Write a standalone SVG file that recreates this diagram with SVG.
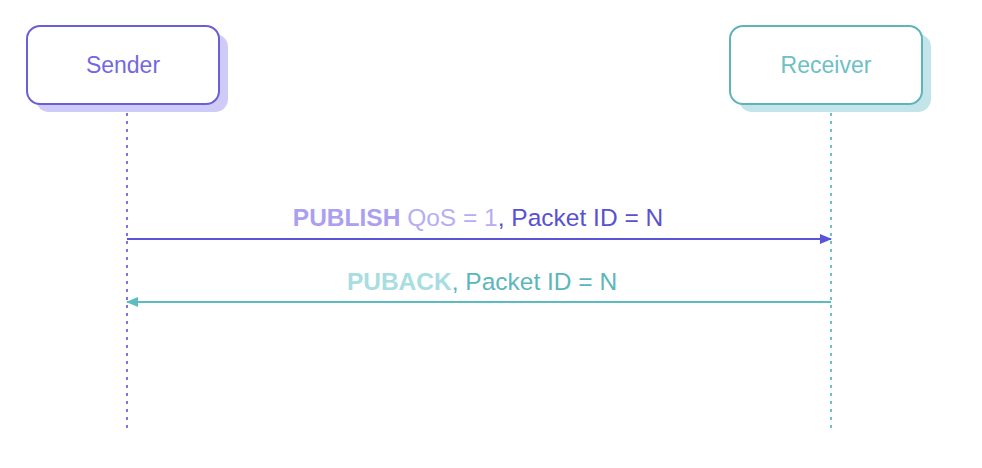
<svg xmlns="http://www.w3.org/2000/svg" width="982" height="468" viewBox="0 0 982 468">
<style>
  text { font-family: "Liberation Sans", Arial, sans-serif; }
  .life { fill: none; stroke-width: 2; stroke-dasharray: 3 5; }
  .lbl { font-size: 23px; text-anchor: middle; }
  .msg { font-size: 24.5px; text-anchor: middle; }
</style>
<defs>
  <marker id="ahP" markerWidth="12" markerHeight="10" refX="11" refY="5" orient="auto" markerUnits="userSpaceOnUse">
    <path d="M0,0 L12,5 L0,10 Z" fill="#5a54d8"/>
  </marker>
  <marker id="ahT" markerWidth="12" markerHeight="10" refX="11" refY="5" orient="auto" markerUnits="userSpaceOnUse">
    <path d="M0,0 L12,5 L0,10 Z" fill="#5dbcc2"/>
  </marker>
</defs>
<rect width="982" height="468" fill="#ffffff"/>
<g id="connectors">
  <line class="life" x1="127" y1="105" x2="127" y2="430" stroke="#7f74e2"/>
  <line class="life" x1="831" y1="105" x2="831" y2="430" stroke="#6cc3c9"/>
  <line x1="127" y1="239" x2="831" y2="239" stroke="#5a54d8" stroke-width="1.8" marker-end="url(#ahP)"/>
  <line x1="831" y1="302" x2="127" y2="302" stroke="#5dbcc2" stroke-width="1.8" marker-end="url(#ahT)"/>
  <text class="msg" x="478" y="226"><tspan font-weight="bold" fill="#ab9ff2">PUBLISH</tspan><tspan fill="#b6aef2"> QoS = 1</tspan><tspan fill="#5a50d2">, Packet ID = N</tspan></text>
  <text class="msg" x="482" y="290"><tspan font-weight="bold" fill="#a8dde1">PUBACK</tspan><tspan fill="#5cb6bc">, Packet ID = N</tspan></text>
</g>
<g id="sender">
  <rect x="36" y="34" width="192" height="78" rx="13" fill="#cfcbf8"/>
  <rect x="27" y="26" width="192" height="78" rx="13" fill="#ffffff" stroke="#6a5fd6" stroke-width="2"/>
  <text class="lbl" x="123" y="73" fill="#7468e0">Sender</text>
</g>
<g id="receiver">
  <rect x="739" y="34" width="192" height="78" rx="13" fill="#c3e5e9"/>
  <rect x="730" y="26" width="192" height="78" rx="13" fill="#ffffff" stroke="#5fb3bb" stroke-width="2"/>
  <text class="lbl" x="826" y="73" fill="#6cc0c6">Receiver</text>
</g>
</svg>
